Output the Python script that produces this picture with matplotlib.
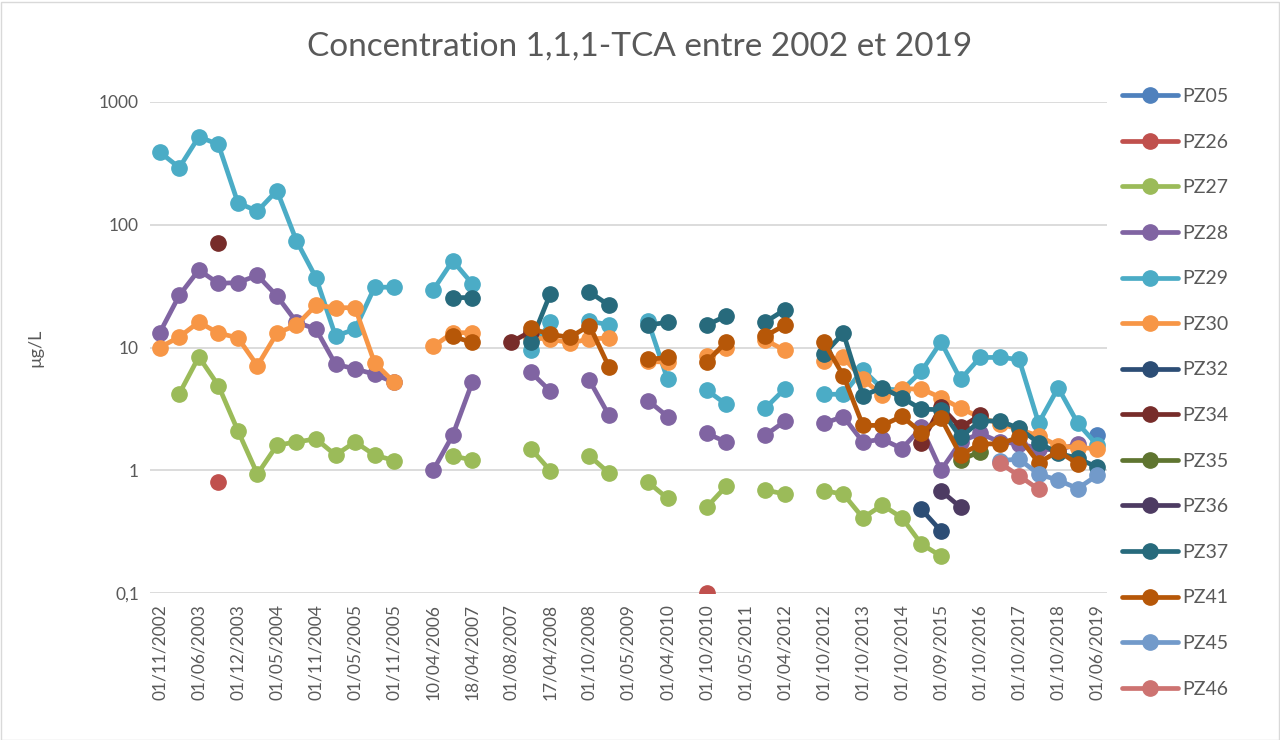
import numpy as np
import matplotlib
matplotlib.use("Agg")
import matplotlib.pyplot as plt
from matplotlib.ticker import FixedLocator, NullLocator
from matplotlib.patches import Rectangle

plt.rcParams['font.family'] = ['Lato', 'DejaVu Sans']

N_CAT = 49
tick_labels = ["01/11/2002", "01/06/2003", "01/12/2003", "01/05/2004", "01/11/2004",
               "01/05/2005", "01/11/2005", "10/04/2006", "18/04/2007", "01/08/2007",
               "17/04/2008", "01/10/2008", "01/05/2009", "01/04/2010", "01/10/2010",
               "01/05/2011", "01/04/2012", "01/10/2012", "01/10/2013", "01/10/2014",
               "01/09/2015", "01/10/2016", "01/10/2017", "01/10/2018", "01/06/2019"]

# values by category index {index: value}
PZ05 = {48: 1.95}
PZ26 = {3: 0.8, 28: 0.1}
PZ27 = {1: 4.2, 2: 8.4, 3: 4.9, 4: 2.1, 5: 0.93, 6: 1.6, 7: 1.7, 8: 1.8, 9: 1.33, 10: 1.7,
        11: 1.33, 12: 1.2, 15: 1.31, 16: 1.21, 19: 1.5, 20: 0.99, 22: 1.31, 23: 0.95,
        25: 0.8, 26: 0.59, 28: 0.5, 29: 0.74, 31: 0.69, 32: 0.64, 34: 0.68, 35: 0.64,
        36: 0.41, 37: 0.52, 38: 0.41, 39: 0.25, 40: 0.2}
PZ28 = {0: 13.2, 1: 26.6, 2: 42.8, 3: 33.3, 4: 33.8, 5: 38.7, 6: 26.3, 7: 16.1, 8: 14.1,
        9: 7.3, 10: 6.7, 11: 6.05, 12: 5.2, 14: 1.0, 15: 1.93, 16: 5.2, 19: 6.3, 20: 4.4,
        22: 5.4, 23: 2.8, 25: 3.7, 26: 2.74, 28: 2.0, 29: 1.7, 31: 1.93, 32: 2.5,
        34: 2.41, 35: 2.74, 36: 1.7, 37: 1.79, 38: 1.5, 39: 2.23, 40: 1.0, 41: 1.7,
        42: 2.0, 43: 1.7, 44: 1.65, 45: 1.5, 46: 1.45, 47: 1.65}
PZ29 = {0: 391, 1: 292, 2: 521, 3: 451, 4: 151, 5: 129, 6: 190, 7: 74, 8: 37, 9: 12.4,
        10: 14.1, 11: 31, 12: 31, 14: 29.4, 15: 51, 16: 33, 19: 9.5, 20: 16.1, 22: 16.4,
        23: 15.3, 25: 16.4, 26: 5.5, 28: 4.5, 29: 3.45, 31: 3.2, 32: 4.6, 34: 4.16,
        35: 4.16, 36: 6.6, 37: 4.6, 38: 4.5, 39: 6.4, 40: 11.1, 41: 5.5, 42: 8.3,
        43: 8.3, 44: 8.0, 45: 2.42, 46: 4.7, 47: 2.42, 48: 1.6}
PZ30 = {0: 10.0, 1: 12.2, 2: 16.1, 3: 13.1, 4: 12.0, 5: 7.1, 6: 13.1, 7: 15.2, 8: 22.1,
        9: 21.1, 10: 21.1, 11: 7.5, 12: 5.2, 14: 10.2, 15: 13.2, 16: 13.2, 19: 12.0,
        20: 11.7, 21: 10.9, 22: 11.7, 23: 12.0, 25: 7.7, 26: 7.6, 28: 8.5, 29: 10.0,
        31: 11.5, 32: 9.5, 34: 7.8, 35: 8.3, 36: 5.5, 37: 4.1, 38: 4.6, 39: 4.6,
        40: 3.9, 41: 3.2, 42: 2.7, 43: 2.4, 44: 2.15, 45: 1.9, 46: 1.58, 47: 1.53, 48: 1.5}
PZ32 = {39: 0.48, 40: 0.32}
PZ34 = {3: 71, 18: 11.1, 19: 13.5, 39: 1.68, 40: 3.3, 41: 2.23, 42: 2.8}
PZ35 = {41: 1.21, 42: 1.42}
PZ36 = {40: 0.68, 41: 0.5}
PZ37 = {15: 25.5, 16: 25.5, 19: 11.0, 20: 27.5, 22: 28.3, 23: 22.1, 25: 15.3, 26: 16.0,
        28: 15.2, 29: 18.1, 31: 16.1, 32: 20.3, 34: 8.8, 35: 13.1, 36: 4.05, 37: 4.7,
        38: 3.9, 39: 3.14, 40: 3.12, 41: 1.85, 42: 2.52, 43: 2.52, 44: 2.2, 45: 1.67,
        46: 1.38, 47: 1.25, 48: 1.06}
PZ41 = {15: 12.3, 16: 11.0, 19: 14.3, 20: 12.8, 21: 12.1, 22: 15.1, 23: 6.95, 25: 8.0,
        26: 8.3, 28: 7.6, 29: 11.1, 31: 12.4, 32: 15.2, 34: 11.1, 35: 5.9, 36: 2.32,
        37: 2.32, 38: 2.75, 39: 2.03, 40: 2.66, 41: 1.33, 42: 1.64, 43: 1.64, 44: 1.86,
        45: 1.15, 46: 1.43, 47: 1.13}
PZ45 = {43: 1.2, 44: 1.23, 45: 0.93, 46: 0.83, 47: 0.71, 48: 0.91}
PZ46 = {43: 1.15, 44: 0.9, 45: 0.7}

series_names = ["PZ05", "PZ26", "PZ27", "PZ28", "PZ29", "PZ30", "PZ32", "PZ34",
                "PZ35", "PZ36", "PZ37", "PZ41", "PZ45", "PZ46"]
series_data = [PZ05, PZ26, PZ27, PZ28, PZ29, PZ30, PZ32, PZ34, PZ35, PZ36, PZ37,
               PZ41, PZ45, PZ46]
colors = ["#4F81BD", "#C0504D", "#9BBB59", "#8064A2", "#4BACC6", "#F79646",
          "#2C4D75", "#772C2A", "#5F7530", "#4D3B62", "#276A7C", "#B65708",
          "#729ACA", "#CD7371"]

W, H = 1280, 740
fig = plt.figure(figsize=(W / 100, H / 100), dpi=100)
ax_l, ax_r, ax_t, ax_b = 150, 1107, 102, 593
ax = fig.add_axes([ax_l / W, 1 - ax_b / H, (ax_r - ax_l) / W, (ax_b - ax_t) / H])

x = np.arange(N_CAT)
for name, d, c in zip(series_names, series_data, colors):
    y = np.full(N_CAT, np.nan)
    for k, v in d.items():
        y[k] = v
    ax.plot(x, y, color=c, lw=3.4, marker='o', markersize=11, label=name,
            solid_capstyle='round', solid_joinstyle='round')

ax.set_yscale('log')
ax.set_ylim(0.1, 1000)
ax.set_xlim(-0.5, N_CAT - 0.5)
ax.yaxis.set_major_locator(FixedLocator([0.1, 1, 10, 100, 1000]))
ax.yaxis.set_minor_locator(NullLocator())
ax.set_yticklabels(["0,1", "1", "10", "100", "1000"])
ax.set_xticks(np.arange(0, N_CAT, 2))
ax.set_xticklabels(tick_labels, rotation=90)
ax.tick_params(axis='both', length=0, labelsize=12.5, colors='#595959')
ax.tick_params(axis='x', pad=8)
ax.tick_params(axis='y', pad=8)
ax.grid(axis='y', color='#D9D9D9', lw=1.3)
ax.set_axisbelow(True)
for s in ax.spines.values():
    s.set_visible(False)

fig.text(35 / W, 1 - 348 / H, "µg/L", rotation=90, ha='center', va='center',
         fontsize=13, color='#595959')
fig.text(640 / W, 1 - 47 / H, "Concentration 1,1,1-TCA entre 2002 et 2019",
         ha='center', va='center', fontsize=24, color='#595959')

leg = ax.legend(loc='upper left', bbox_to_anchor=(1122 / W, 1 - 88 / H),
                bbox_transform=fig.transFigure, frameon=False, fontsize=14,
                handlelength=2.9, handletextpad=0.22, labelspacing=1.47,
                borderaxespad=0, borderpad=0)
for t in leg.get_texts():
    t.set_color('#595959')

fig.patches.append(Rectangle((0.5 / W, 0.5 / H), 1 - 2 / W, 1 - 2 / H, fill=False,
                             edgecolor='#D9D9D9', lw=1, transform=fig.transFigure))

fig.savefig("out.png", dpi=100)
